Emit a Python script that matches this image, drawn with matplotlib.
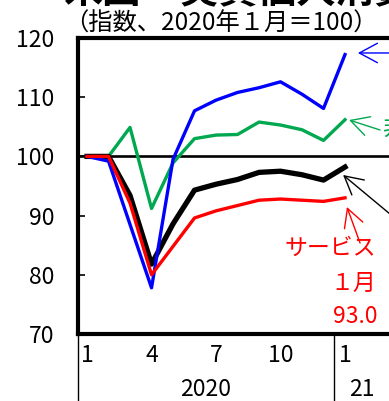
import matplotlib
matplotlib.use("Agg")
import matplotlib.pyplot as plt

plt.rcParams['font.family'] = ['Noto Sans CJK JP', 'DejaVu Sans']

# months: 1..12 = 2020, 13 = Jan 2021
months = list(range(1, 14))
goods = [100, 99.2, 88.5, 77.8, 99.5, 107.7, 109.5, 110.8, 111.6, 112.6, 110.5, 108.1, 117.2]
nondurable = [100, 100, 104.9, 91.2, 98.9, 103.0, 103.6, 103.7, 105.8, 105.3, 104.5, 102.7, 106.2]
total = [100, 100, 93.4, 81.8, 88.6, 94.3, 95.3, 96.1, 97.3, 97.5, 96.9, 96.0, 98.2]
services = [100, 100, 92.1, 80.0, 84.8, 89.6, 90.8, 91.7, 92.6, 92.8, 92.6, 92.4, 93.0]

tick_pos = [1, 4, 7, 10, 13]
tick_labels = ['1', '4', '7', '10', '1']
years = ['2020', '21']
year_pos = [6.5, 13.8]

fig = plt.figure(figsize=(3.89, 4.01), dpi=100)
ax = fig.add_axes([78 / 389, 67 / 401, 320.75 / 389, 296 / 401])
ax.set_xlim(0.58, 15.5)
ax.set_ylim(70, 120)

ax.axhline(100, color='black', lw=1.9, zorder=1.5)
ax.plot(months, nondurable, color='#00a850', lw=2.4, zorder=2)
ax.plot(months, total, color='black', lw=3.8, zorder=3)
ax.plot(months, goods, color='#0000ff', lw=2.4, zorder=4)
ax.plot(months, services, color='#ff0000', lw=2.4, zorder=5)

for side in ['left', 'top', 'bottom', 'right']:
    ax.spines[side].set_linewidth(3.0)

ax.set_yticks([70, 80, 90, 100, 110, 120])
ax.tick_params(axis='y', direction='in', length=5, width=1.2, pad=17, labelsize=16.5)
ax.set_xticks(tick_pos, tick_labels)
ax.tick_params(axis='x', length=0, pad=7, labelsize=16.5)

# year separators below the axis
xt = ax.get_xaxis_transform()
for x in [0.58, 12.5]:
    ax.plot([x, x], [0, -0.3], transform=xt, color='black', lw=1.0, clip_on=False)
for x, label in zip(year_pos, years):
    ax.annotate(label, xy=(x, 0), xycoords=xt, xytext=(0, -40), textcoords='offset points',
                ha='center', va='center', fontsize=16.5)

# arrows to the series labels
arrow = dict(arrowstyle='->,head_length=1.3,head_width=0.7', lw=1.0,
             shrinkA=0, shrinkB=0, mutation_scale=10)
ax.annotate('', xy=(13.60, 117.47), xytext=(16.0, 117.47),
            arrowprops=dict(arrow, color='#0000ff'), annotation_clip=False)
ax.annotate('', xy=(13.19, 106.15), xytext=(14.63, 104.46),
            arrowprops=dict(arrow, color='#00a850'), annotation_clip=False)
ax.annotate('', xy=(12.91, 96.86), xytext=(16.49, 86.05),
            arrowprops=dict(arrow, color='black'), annotation_clip=False)
ax.annotate('', xy=(13.09, 91.45), xytext=(13.70, 85.37),
            arrowprops=dict(arrow, color='#ff0000'), annotation_clip=False)

ax.text(14.72, 104.8, '非耐久財', color='#00a850', fontsize=16.5, ha='left', va='center',
        clip_on=False)
ax.text(14.44, 84.5, 'サービス', color='#ff0000', fontsize=16.5, ha='right', va='center')
ax.text(14.44, 78.6, '１月', color='#ff0000', fontsize=16.5, ha='right', va='center')
ax.text(14.50, 72.9, f'{services[-1]:.1f}', color='#ff0000', fontsize=16.5, ha='right', va='center')

fig.text(63 / 389, 1 - 11 / 401, '米国・実質個人消費', fontsize=28, fontweight='bold', va='bottom')
fig.text(64 / 389, 1 - 24 / 401, '（指数、2020年１月＝100）', fontsize=17.5, ha='left', va='center')

fig.savefig('out.png', dpi=100)
